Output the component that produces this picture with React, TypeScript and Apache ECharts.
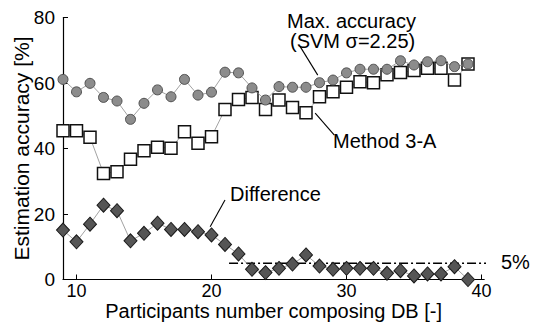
import React, { useEffect, useRef } from "react";
import * as echarts from "echarts";

const participants = [9, 10, 11, 12, 13, 14, 15, 16, 17, 18, 19, 20, 21, 22, 23, 24, 25, 26, 27, 28, 29, 30, 31, 32, 33, 34, 35, 36, 37, 38, 39];
const maxAccuracy = [61.1, 57.3, 59.9, 55.6, 54.5, 48.9, 53.8, 57.9, 55.8, 61.1, 56.3, 57.2, 63.3, 63.1, 58.5, 54.8, 58.9, 58.7, 58.7, 60.1, 60.9, 63.1, 64.2, 64.2, 64.2, 66.8, 65.5, 66.5, 66.8, 65.0, 65.8];
const method3A = [45.4, 45.4, 43.4, 32.4, 32.9, 36.7, 39.3, 40.4, 40.1, 45.1, 41.6, 43.6, 51.9, 55.0, 55.6, 51.9, 54.8, 52.5, 50.9, 55.8, 57.3, 58.7, 60.4, 60.1, 62.5, 63.2, 63.8, 64.5, 64.5, 60.9, 65.8];
const difference = [15.1, 11.5, 16.9, 22.7, 21.0, 11.8, 14.1, 17.2, 15.3, 15.3, 14.6, 13.6, 10.7, 7.8, 3.1, 2.1, 3.4, 4.7, 7.5, 4.1, 3.1, 3.4, 3.4, 3.4, 1.9, 2.7, 1.1, 1.7, 1.7, 3.9, 0.0];
const xTicks = [10, 20, 30, 40];
const threshold = 5;
const thresholdRange = [21.3, 40.6];

const FONT = "Liberation Sans";

export default function App() {
  const ref = useRef<HTMLDivElement>(null);
  useEffect(() => {
    document.body.style.margin = "0";
    if (!ref.current) return;
    const chart = echarts.init(ref.current, undefined, { renderer: "svg" });
    const pts = (ys: number[]) => participants.map((x, i) => [x, ys[i]]);
    const connector = { color: "#8a8a8a", width: 0.8 };
    chart.setOption({
      animation: false,
      backgroundColor: "#ffffff",
      grid: { left: 63, right: 52.8, top: 17.5, bottom: 43.5, outerBoundsMode: "none", containLabel: false },
      xAxis: {
        type: "value",
        min: 9,
        max: 40.2,
        name: "Participants number composing DB [-]",
        nameLocation: "middle",
        nameGap: 21,
        nameMoveOverlap: false,
        nameTextStyle: { fontFamily: FONT, fontSize: 20, color: "#000", verticalAlign: "top", lineHeight: 20 },
        axisLine: { show: true, lineStyle: { color: "#000", width: 1.2 } },
        axisTick: { show: true, inside: true, length: 5, customValues: xTicks, lineStyle: { color: "#000" } },
        axisLabel: { customValues: xTicks, fontFamily: FONT, fontSize: 18, lineHeight: 18, color: "#000", margin: 2 },
        splitLine: { show: false },
      },
      yAxis: {
        type: "value",
        min: 0,
        max: 80,
        interval: 20,
        name: "Estimation accuracy [%]",
        nameLocation: "middle",
        nameGap: 31,
        nameMoveOverlap: false,
        nameTextStyle: { fontFamily: FONT, fontSize: 21, color: "#000" },
        axisLine: { show: true, lineStyle: { color: "#000", width: 1.2 } },
        axisTick: { show: true, inside: true, length: 5, lineStyle: { color: "#000" } },
        axisLabel: { fontFamily: FONT, fontSize: 19, color: "#000", margin: 8 },
        splitLine: { show: false },
      },
      series: [
        {
          type: "line",
          name: "Method 3-A",
          data: pts(method3A),
          symbol: "rect",
          symbolSize: 12,
          showAllSymbol: true,
          lineStyle: connector,
          itemStyle: { color: "#ffffff", borderColor: "#111", borderWidth: 1.5 },
          z: 2,
          markLine: {
            silent: true,
            symbol: ["none", "arrow"],
            symbolSize: [0, 9],
            label: { show: false },
            lineStyle: { color: "#000", width: 1.1, type: "solid" },
            data: [
              [{ coord: [26.57, 71.1] }, { coord: [27.87, 62.4] }],
              [{ coord: [29.1, 44.1] }, { coord: [27.68, 50.8] }],
              [{ coord: [21.0, 24.3] }, { coord: [19.9, 16.1] }],
            ],
          },
        },
        {
          type: "line",
          name: "Max. accuracy",
          data: pts(maxAccuracy),
          symbol: "circle",
          symbolSize: 10,
          showAllSymbol: true,
          lineStyle: connector,
          itemStyle: { color: "#8c8c8c", borderColor: "#505050", borderWidth: 1 },
          z: 3,
        },
        {
          type: "line",
          name: "Difference",
          data: pts(difference),
          symbol: "diamond",
          symbolSize: [13, 14],
          showAllSymbol: true,
          lineStyle: connector,
          itemStyle: { color: "#555555", borderColor: "#1a1a1a", borderWidth: 1 },
          z: 4,
        },
        {
          type: "line",
          name: "5%",
          data: thresholdRange.map((x) => [x, threshold]),
          symbol: "none",
          clip: false,
          lineStyle: { color: "#000", width: 1.5, type: [9, 3, 2, 3] },
          z: 1,
        },
      ],
      graphic: [
        { type: "text", left: 287, top: 11, style: { text: "Max. accuracy", font: `20px '${FONT}'`, fill: "#000" } },
        { type: "text", left: 290, top: 31, style: { text: "(SVM σ=2.25)", font: `20px '${FONT}'`, fill: "#000" } },
        { type: "text", left: 333, top: 131, style: { text: "Method 3-A", font: `20px '${FONT}'`, fill: "#000" } },
        { type: "text", left: 230, top: 184, style: { text: "Difference", font: `20px '${FONT}'`, fill: "#000" } },
        { type: "text", left: 501, top: 252, style: { text: "5%", font: `20px '${FONT}'`, fill: "#000" } },
      ],
    });
    return () => chart.dispose();
  }, []);
  return <div ref={ref} style={{ width: 537, height: 323 }} />;
}
